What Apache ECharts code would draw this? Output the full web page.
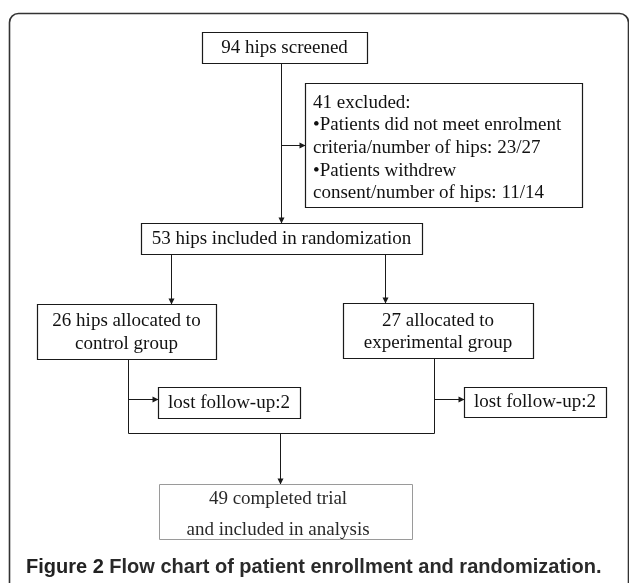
<!DOCTYPE html>
<html>
<head>
<meta charset="utf-8">
<script src="https://cdn.jsdelivr.net/npm/echarts@6/dist/echarts.min.js"></script>
<style>html,body{margin:0;padding:0;background:#fff}#c{width:629px;height:583px}</style>
</head>
<body>
<div id="c"></div>
<script>
// ---- content ----
const boxTexts = [
  "94 hips screened",
  "41 excluded:\n\u2022Patients did not meet enrolment\ncriteria/number of hips: 23/27\n\u2022Patients withdrew\nconsent/number of hips: 11/14",
  "53 hips included in randomization",
  "26 hips allocated to\ncontrol group",
  "27 allocated to\nexperimental group",
  "lost follow-up:2",
  "lost follow-up:2",
  "49 completed trial\nand included in analysis"
];
const captionBold = "Figure 2";
const captionText = "Flow chart of patient enrollment and randomization.";

// ---- layout (pixel space of the figure) ----
const boxRects = [
  [202, 32, 367, 63],
  [305, 83, 582, 207],
  [141, 223, 422, 254],
  [37, 304, 216, 359],
  [343, 303, 533, 358],
  [158, 387, 300, 418],
  [464, 387, 606, 417],
  [159, 484, 412, 539]
];
const boxTextLayout = [
  {x: 284.5, y: 48, align: 'center', lh: 23},
  {x: 313, y: 148, align: 'left', lh: 22.7},
  {x: 281.5, y: 239, align: 'center', lh: 23},
  {x: 126.5, y: 333, align: 'center', lh: 23},
  {x: 438, y: 332, align: 'center', lh: 22},
  {x: 229, y: 403, align: 'center', lh: 23},
  {x: 535, y: 402, align: 'center', lh: 23},
  {x: 278, y: 515, align: 'center', lh: 31}
];
const boxStroke = ['#1a1a1a','#1a1a1a','#1a1a1a','#1a1a1a','#1a1a1a','#1a1a1a','#1a1a1a','#9a9a9a'];
const connectors = [
  {pts: [[281, 63], [281, 223]], arrow: true},
  {pts: [[281, 145], [305, 145]], arrow: true},
  {pts: [[171, 254], [171, 304]], arrow: true},
  {pts: [[385, 254], [385, 303]], arrow: true},
  {pts: [[128, 359], [128, 433], [434, 433], [434, 358]], arrow: false},
  {pts: [[128, 399], [158, 399]], arrow: true},
  {pts: [[434, 399], [464, 399]], arrow: true},
  {pts: [[280, 433], [280, 484]], arrow: true}
];

const chart = echarts.init(document.getElementById('c'), null, {renderer: 'canvas'});

function crisp(v) { return Math.round(v) + 0.5; }

const option = {
  animation: false,
  backgroundColor: '#fff',
  grid: {left: 0, right: 0, top: 0, bottom: 0},
  xAxis: {type: 'value', min: 0, max: 629, show: false},
  yAxis: {type: 'value', min: 0, max: 583, inverse: true, show: false},
  graphic: [
    {
      type: 'rect', silent: true,
      shape: {x: 9.5, y: 13.5, width: 619, height: 620, r: 9},
      style: {fill: 'none', stroke: '#333', lineWidth: 1.6},
      z: 0
    },
    {
      type: 'text', left: 26, top: 557, silent: true,
      style: {
        text: '{b|' + captionBold + '\u00a0}{r|' + captionText + '}',
        rich: {
          b: {fontFamily: 'Liberation Sans', fontWeight: 'bold', fontSize: 20, fill: '#222'},
          r: {fontFamily: 'Liberation Sans', fontWeight: 'bold', fontSize: 20, fill: '#2a2a2a'}
        }
      }
    }
  ],
  series: [
    {
      type: 'custom',
      coordinateSystem: 'cartesian2d',
      data: connectors.map((c, i) => [i]),
      z: 2,
      renderItem: function (params, api) {
        const c = connectors[api.value(0)];
        const pts = c.pts.map(p => api.coord(p));
        const cp = pts.map(p => [crisp(p[0]), crisp(p[1])]);
        const children = [{
          type: 'polyline',
          shape: {points: cp},
          style: {stroke: '#1a1a1a', lineWidth: 1, fill: 'none'}
        }];
        if (c.arrow) {
          const a = cp[cp.length - 2], b = cp[cp.length - 1];
          const dx = b[0] - a[0], dy = b[1] - a[1];
          const len = Math.sqrt(dx * dx + dy * dy);
          const ux = dx / len, uy = dy / len;
          const L = 6, W = 3;
          const bx = b[0] - ux * L, by = b[1] - uy * L;
          children.push({
            type: 'polygon',
            shape: {points: [[b[0], b[1]], [bx - uy * W, by + ux * W], [bx + uy * W, by - ux * W]]},
            style: {fill: '#1a1a1a'}
          });
        }
        return {type: 'group', children: children};
      }
    },
    {
      type: 'custom',
      coordinateSystem: 'cartesian2d',
      data: boxTexts.map((t, i) => [i]),
      z: 3,
      renderItem: function (params, api) {
        const i = api.value(0);
        const r = boxRects[i];
        const p0 = api.coord([r[0], r[1]]);
        const p1 = api.coord([r[2], r[3]]);
        const tl = boxTextLayout[i];
        const tp = api.coord([tl.x, tl.y]);
        return {
          type: 'group',
          children: [
            {
              type: 'rect',
              shape: {x: crisp(p0[0]), y: crisp(p0[1]), width: Math.round(p1[0] - p0[0]), height: Math.round(p1[1] - p0[1])},
              style: {fill: '#fff', stroke: boxStroke[i], lineWidth: i === 7 ? 1 : 1.2}
            },
            {
              type: 'text',
              style: {
                text: boxTexts[i],
                x: tp[0], y: tp[1],
                align: tl.align, verticalAlign: 'middle',
                fontFamily: 'Liberation Serif', fontSize: 19,
                lineHeight: tl.lh,
                fill: i === 7 ? '#2a2a2a' : '#111'
              }
            }
          ]
        };
      }
    }
  ]
};
chart.setOption(option);
</script>
</body>
</html>
